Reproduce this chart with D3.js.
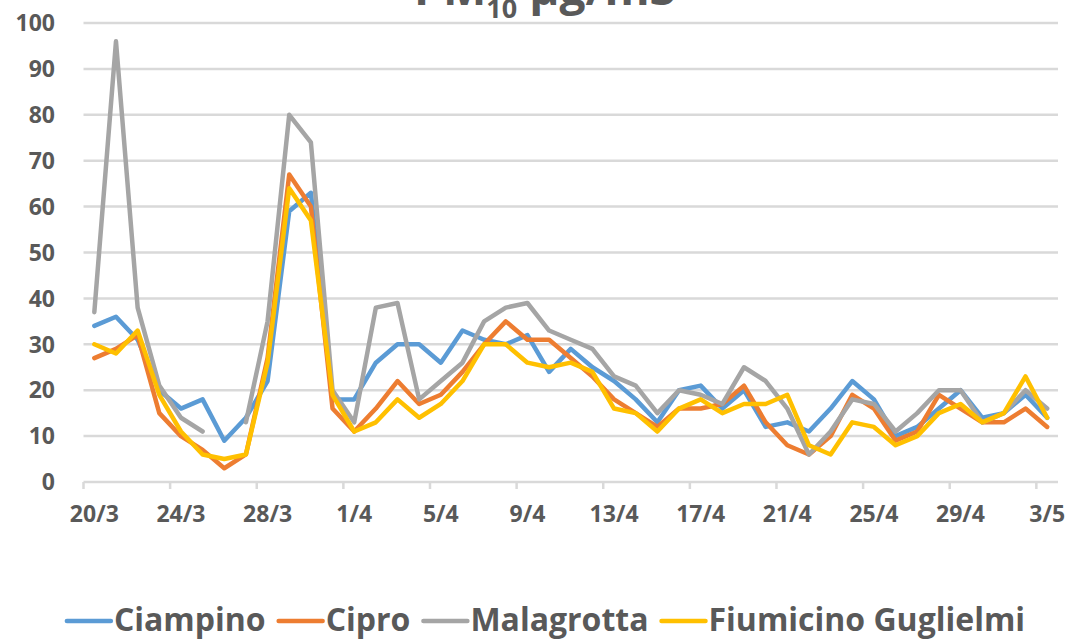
<!DOCTYPE html>
<html>
<head>
<meta charset="utf-8">
<script src="https://cdn.jsdelivr.net/npm/d3@7"></script>
<style>
  body { margin: 0; background: #fff; }
  text { font-family: "Open Sans", "Liberation Sans", sans-serif; font-weight: bold; fill: #595959; }
</style>
</head>
<body>
<script>
// dates on the x axis (one point per day)
var dates = ["20/3","21/3","22/3","23/3","24/3","25/3","26/3","27/3","28/3","29/3","30/3","31/3",
  "1/4","2/4","3/4","4/4","5/4","6/4","7/4","8/4","9/4","10/4","11/4","12/4","13/4","14/4","15/4",
  "16/4","17/4","18/4","19/4","20/4","21/4","22/4","23/4","24/4","25/4","26/4","27/4","28/4","29/4",
  "30/4","1/5","2/5","3/5"];
var tickDates = ["20/3","24/3","28/3","1/4","5/4","9/4","13/4","17/4","21/4","25/4","29/4","3/5"];
var yTicks = [0,10,20,30,40,50,60,70,80,90,100];

var ciampino = [34,36,31,20,16,18,9,14,22,59,63,18,18,26,30,30,26,33,31,30,32,24,29,25,22,18,13,20,21,16,20,12,13,11,16,22,18,10,12,16,20,14,15,19,14];
var cipro = [27,29,32,15,10,7,3,6,27,67,60,16,11,16,22,17,19,24,30,35,31,31,27,23,18,15,12,16,16,17,21,13,8,6,10,19,16,9,11,19,16,13,13,16,12];
var malagrotta = [37,96,38,21,14,11,null,13,35,80,74,20,13,38,39,18,22,26,35,38,39,33,31,29,23,21,15,20,19,17,25,22,16,6,11,18,17,11,15,20,20,13,15,20,16];
var fiumicino = [30,28,33,19,11,6,5,6,26,64,57,19,11,13,18,14,17,22,30,30,26,25,26,24,16,15,11,16,18,15,17,17,19,8,6,13,12,8,10,15,17,13,15,23,14];

var seriesNames = ["Ciampino","Cipro","Malagrotta","Fiumicino Guglielmi"];
var seriesColors = ["#5B9BD5","#ED7D31","#A5A5A5","#FFC000"];
var seriesValues = [ciampino, cipro, malagrotta, fiumicino];

var svg = d3.select("body")
    .append("svg")
    .attr("width", 1070)
    .attr("height", 640)
    .style("display", "block");

var x = d3.scaleBand()
    .domain(dates)
    .range([83.5, 1058])
    .padding(0);

var y = d3.scaleLinear()
    .domain([0, 100])
    .range([482, 23]);

// horizontal gridlines
svg.append("g")
    .selectAll("line")
    .data(yTicks.filter(function(d) { return d > 0; }))
    .join("line")
    .attr("x1", 83.5)
    .attr("x2", 1058)
    .attr("y1", function(d) { return y(d); })
    .attr("y2", function(d) { return y(d); })
    .attr("stroke", "#D9D9D9")
    .attr("stroke-width", 2.5);

// y axis labels
svg.append("g")
    .selectAll("text")
    .data(yTicks)
    .join("text")
    .attr("x", 55)
    .attr("y", function(d) { return y(d); })
    .attr("dy", "0.36em")
    .attr("text-anchor", "end")
    .attr("font-size", "23px")
    .text(function(d) { return d; });

// x axis: labels under the day, ticks at day boundaries
var xAxis = d3.axisBottom(x)
    .tickValues(tickDates)
    .tickSize(0)
    .tickPadding(24);

var gx = svg.append("g")
    .attr("transform", "translate(0,482)")
    .call(xAxis);
gx.select(".domain").remove();
gx.selectAll("text")
    .attr("font-size", "23px")
    .attr("font-family", null)
    .attr("fill", "#595959")
    .attr("dy", "0.71em");

svg.append("line")
    .attr("x1", 83.5)
    .attr("x2", 1058)
    .attr("y1", 482)
    .attr("y2", 482)
    .attr("stroke", "#D9D9D9")
    .attr("stroke-width", 2.5);

svg.append("g")
    .selectAll("line")
    .data(tickDates)
    .join("line")
    .attr("x1", function(d) { return x(d); })
    .attr("x2", function(d) { return x(d); })
    .attr("y1", 482)
    .attr("y2", 489)
    .attr("stroke", "#D9D9D9")
    .attr("stroke-width", 2.5);

// series lines
var line = d3.line()
    .defined(function(d) { return d != null; })
    .x(function(d, i) { return x(dates[i]) + x.bandwidth() / 2; })
    .y(function(d) { return y(d); });

seriesValues.forEach(function(vals, k) {
  svg.append("path")
      .datum(vals)
      .attr("d", line)
      .attr("fill", "none")
      .attr("stroke", seriesColors[k])
      .attr("stroke-width", 4.5)
      .attr("stroke-linejoin", "round")
      .attr("stroke-linecap", "round");
});

// title (partly cut off at the top, as in the original)
var title = svg.append("text")
    .attr("x", 545)
    .attr("y", 5)
    .attr("text-anchor", "middle")
    .attr("font-size", "46px");
title.append("tspan").text("PM");
title.append("tspan").attr("font-size", "27px").attr("dy", 13).text("10");
title.append("tspan").attr("dy", -13).text(" µg/m3");

// legend
var legend = svg.append("g");
var lx = 0;
seriesNames.forEach(function(name, k) {
  legend.append("line")
      .attr("x1", lx)
      .attr("x2", lx + 44)
      .attr("y1", 621)
      .attr("y2", 621)
      .attr("stroke", seriesColors[k])
      .attr("stroke-width", 4.5)
      .attr("stroke-linecap", "round");
  var t = legend.append("text")
      .attr("x", lx + 47)
      .attr("y", 631)
      .attr("font-size", "32px")
      .text(name);
  lx += 47 + t.node().getComputedTextLength() + 13;
});
var legendWidth = lx - 13;
legend.attr("transform", "translate(" + (546 - legendWidth / 2) + ",0)");
</script>
</body>
</html>
